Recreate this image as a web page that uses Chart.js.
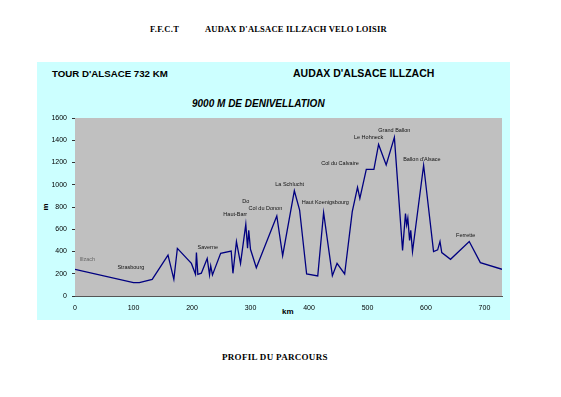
<!DOCTYPE html>
<html>
<head>
<meta charset="utf-8">
<script src="https://cdn.jsdelivr.net/npm/chart.js@4/dist/chart.umd.min.js"></script>
<style>
  body { margin: 0; background: #fff; width: 561px; height: 397px; position: relative; overflow: hidden; }
  #panel { position: absolute; left: 37px; top: 62px; width: 473px; height: 258px; background: #ccffff; }
  canvas { position: absolute; left: 0; top: 0; }
  .t { position: absolute; white-space: nowrap; line-height: 1; }
  .serif { font-family: "Liberation Serif", "DejaVu Serif", serif; font-weight: bold; }
  .sans { font-family: "Liberation Sans", Arial, sans-serif; font-weight: bold; }
</style>
</head>
<body>
<div id="panel"></div>
<div class="t serif" style="left:150px;top:25px;font-size:8.5px;letter-spacing:0.3px">F.F.C.T</div>
<div class="t serif" style="left:205px;top:25px;font-size:8.5px;letter-spacing:0.2px">AUDAX D'ALSACE ILLZACH VELO LOISIR</div>
<div class="t sans" style="left:52px;top:69px;font-size:9.7px">TOUR D'ALSACE 732 KM</div>
<div class="t sans" style="left:293px;top:68px;font-size:10.5px">AUDAX D'ALSACE ILLZACH</div>
<div class="t sans" style="left:192px;top:99px;font-size:10px;font-style:italic">9000 M DE DENIVELLATION</div>
<div class="t sans" style="left:282px;top:308px;font-size:8px">km</div>
<div class="t sans" style="left:42px;top:203px;font-size:8px;transform:rotate(-90deg)">m</div>
<div class="t serif" style="left:222px;top:353px;font-size:9px;letter-spacing:0.3px">PROFIL DU PARCOURS</div>
<canvas id="chart" width="561" height="397"></canvas>
<script>
// profil : distance (km) et altitude (m)
const km = [0, 100, 110, 132, 159, 169, 175, 199, 206, 207.6, 210, 216, 226, 230, 232, 235,
  249, 267, 270, 276, 283, 292, 295, 297, 300, 310, 345, 355, 375, 384, 396, 415, 425,
  440, 448, 461, 474, 483, 487, 498, 511, 519, 532, 546, 560, 565, 567, 569, 572, 574,
  577, 596, 613, 620, 624, 627, 642, 674, 693, 730];
const altitude = [240, 120, 120, 150, 368, 150, 428, 293, 195, 390, 195, 205, 338, 190, 272, 190,
  383, 404, 204, 488, 293, 644, 430, 590, 420, 254, 719, 362, 946, 773, 198, 180, 749,
  183, 293, 198, 758, 976, 877, 1138, 1138, 1362, 1177, 1426, 410, 740, 640, 700, 500, 590,
  400, 1175, 400, 415, 490, 390, 330, 490, 300, 240];

// étiquettes des lieux
const places = ["Illzach", "Strasbourg", "Saverne", "Haut-Barr", "Do", "Col du Donon", "La Schlucht",
  "Haut Koenigsbourg", "Col du Calvaire", "Le Hohneck", "Grand Ballon", "Ballon d'Alsace", "Ferrette"];
const placeKm = [21, 95.5, 227, 274, 292, 325.5, 367, 428, 453, 502, 546, 593, 668];
const placeAlt = [324, 254, 437, 737, 847, 790, 1006, 845, 1189, 1426, 1491, 1231, 542];

const xTicks = [0, 100, 200, 300, 400, 500, 600, 700];

const plotBg = {
  id: "plotBg",
  beforeDraw(chart) {
    const a = chart.chartArea;
    const ctx = chart.ctx;
    ctx.save();
    ctx.fillStyle = "#c0c0c0";
    ctx.fillRect(a.left, a.top, a.right - a.left, a.bottom - a.top);
    ctx.restore();
  },
  afterDatasetsDraw(chart) {
    const ctx = chart.ctx;
    const x = chart.scales.x;
    const y = chart.scales.y;
    ctx.save();
    ctx.font = "5.5px 'Liberation Sans', Arial, sans-serif";
    ctx.textAlign = "center";
    ctx.textBaseline = "middle";
    for (let i = 0; i < places.length; i++) {
      ctx.fillStyle = i === 0 ? "#666" : "#111";
      ctx.fillText(places[i], x.getPixelForValue(placeKm[i]), y.getPixelForValue(placeAlt[i]));
    }
    ctx.restore();
  },
};

new Chart(document.getElementById("chart"), {
  type: "scatter",
  data: {
    datasets: [
      {
        data: km.map((k, i) => ({ x: k, y: altitude[i] })),
        showLine: true,
        borderColor: "#000080",
        borderWidth: 1.3,
        pointRadius: 0,
        tension: 0,
      },
    ],
  },
  options: {
    responsive: false,
    animation: false,
    layout: { padding: { left: 37, right: 59, top: 118, bottom: 77 } },
    plugins: { legend: { display: false }, tooltip: { enabled: false } },
    scales: {
      x: {
        type: "linear",
        min: 0,
        max: 730,
        afterBuildTicks: (s) => { s.ticks = xTicks.map((v) => ({ value: v })); },
        afterFit: (s) => { s.height = 24; },
        grid: { drawOnChartArea: false, drawTicks: false },
        border: { color: "#555", width: 1 },
        ticks: { padding: 8, color: "#000", font: { family: "'Liberation Sans', Arial", size: 7 } },
      },
      y: {
        min: 0,
        max: 1600,
        afterFit: (s) => { s.width = 38; },
        grid: { drawOnChartArea: false, tickLength: 3, color: "#333" },
        border: { display: false },
        ticks: {
          stepSize: 200,
          padding: 5,
          color: "#000",
          font: { family: "'Liberation Sans', Arial", size: 7 },
          callback: (v) => String(v),
        },
      },
    },
  },
  plugins: [plotBg],
});
</script>
</body>
</html>
